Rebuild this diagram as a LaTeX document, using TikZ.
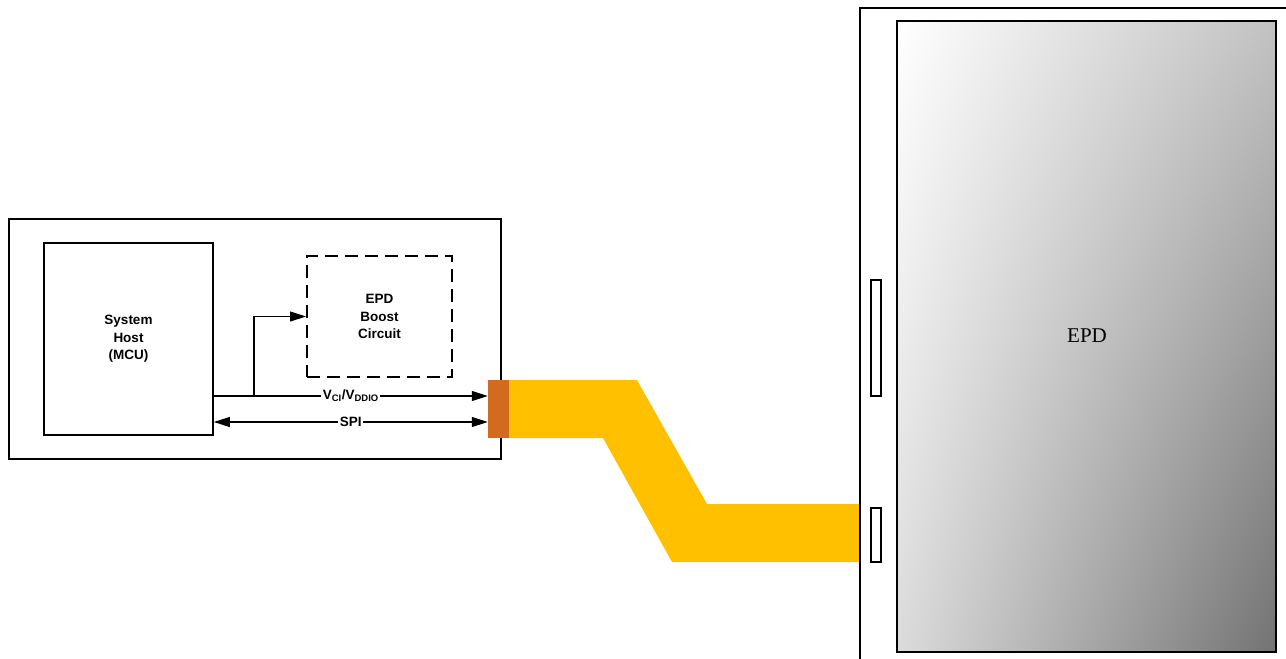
\documentclass[tikz,border=0pt]{standalone}
\usepackage{fontspec}
\setmainfont{Liberation Serif}
\setsansfont{Liberation Sans}
\usetikzlibrary{arrows.meta,shadings}
\definecolor{flexyellow}{RGB}{255,192,0}
\definecolor{flexorange}{RGB}{210,107,30}
\tikzset{
	blk/.style={draw, line width=1.7pt, align=center, inner sep=0pt,
		font=\sffamily\bfseries\fontsize{13.5}{17.5}\selectfont},
	sig/.style={line width=1.1pt, -{Triangle[length=16pt,width=10pt]}},
	lbl/.style={fill=white, inner sep=1.5pt, font=\sffamily\bfseries\fontsize{13.5}{15}\selectfont}
}

\begin{document}
\begin{tikzpicture}[x=1pt,y=-1pt]
	\useasboundingbox (0,0) rectangle (1286,659);

	\draw[line width=1.5pt] (9,219) rectangle (501,459);
	\node[blk, minimum width=169pt, minimum height=192pt] (host) at (128.5,339) {System\\Host\\(MCU)};
	\node[blk, line width=2pt, dash pattern=on 13pt off 7pt, minimum width=145pt, minimum height=121pt] (boost) at (379.5,316.5) {EPD\\Boost\\Circuit};

	\fill[flexyellow] (509,380) -- (637,380) -- (707,504) -- (860,504) -- (860,562) -- (672,562) -- (603,438) -- (509,438) -- cycle;
	\node[fill=flexorange, minimum width=21pt, minimum height=58pt, inner sep=0pt] (conn) at (498.5,409) {};

	\draw[sig] (host.east |- 0,396) -- (conn.west |- 0,396) node[lbl, pos=0.5] {V\textsubscript{CI}/V\textsubscript{DDIO}};
	\coordinate (tap) at (254,396);
	\draw[sig] (tap) |- (boost.west);
	\draw[sig, {Triangle[length=16pt,width=10pt]}-{Triangle[length=16pt,width=10pt]}] (host.east |- 0,422) -- (conn.west |- 0,422) node[lbl, pos=0.5] {SPI};

	\draw[line width=1.5pt] (860,659) -- (860,8) -- (1286,8);
	\shade[upper left=white, upper right=black!24, lower left=black!14, lower right=black!55] (897,21) rectangle (1276,652);
	\draw[line width=1.8pt] (897,21) rectangle (1276,652);
	\node[font=\fontsize{21}{24}\selectfont] (epd) at (1087,336) {EPD};
	\draw[line width=1.3pt] (871,280) rectangle (881,396);
	\draw[line width=1.3pt] (871,508) rectangle (881,562);
\end{tikzpicture}
\end{document}
